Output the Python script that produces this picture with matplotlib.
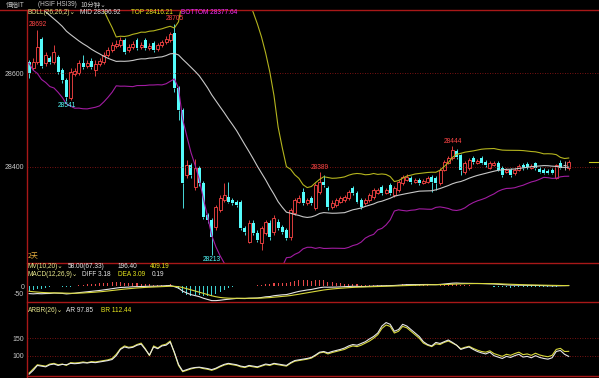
import numpy as np
import pandas as pd
import matplotlib
matplotlib.use("Agg")
import matplotlib.pyplot as plt
from matplotlib.lines import Line2D

# ---------------- data ----------------
pre_close = [28840, 28855, 28830, 28845, 28820, 28835, 28810, 28800, 28815, 28790,
             28780, 28795, 28770, 28760, 28775, 28755, 28750, 28770, 28760, 28750,
             28745, 28660, 28650, 28640, 28630]

open_ = [28623, 28611, 28623, 28672, 28621, 28632, 28623, 28634, 28606, 28585,
         28547, 28598, 28600, 28621, 28615, 28626, 28606, 28619, 28623, 28638,
         28649, 28657, 28660, 28670, 28649, 28655, 28670, 28655, 28670, 28653,
         28664, 28651, 28660, 28666, 28670, 28685,
         28568, 28521, 28383, 28404, 28357, 28398, 28366, 28298, 28287, 28272,
         28308, 28330, 28336, 28330, 28326, 28326, 28270, 28240, 28281, 28260,
         28238, 28260, 28281, 28262, 28283, 28272, 28266, 28251, 28302, 28326,
         28347, 28323, 28334, 28313, 28347,
         28368, 28355, 28315, 28319, 28326, 28330, 28334, 28355, 28345, 28330,
         28323, 28330, 28336, 28345, 28357, 28345, 28362, 28340, 28351, 28366,
         28372, 28377, 28368, 28372, 28366, 28368, 28379, 28377, 28366, 28394,
         28409, 28419, 28434, 28425, 28389, 28398, 28419, 28409, 28419, 28411,
         28398, 28404, 28409, 28398, 28389, 28394, 28387, 28394, 28404, 28406,
         28398, 28409, 28396, 28394, 28392, 28394, 28377, 28409, 28404, 28398]

close = [28600, 28623, 28655, 28615, 28638, 28623, 28645, 28602, 28585, 28549,
         28602, 28604, 28621, 28613, 28621, 28613, 28619, 28626, 28638, 28649,
         28660, 28662, 28670, 28645, 28655, 28662, 28653, 28660, 28653, 28657,
         28649, 28660, 28666, 28672, 28683, 28568,
         28521, 28366, 28404, 28383, 28398, 28366, 28294, 28287, 28251, 28315,
         28334, 28340, 28326, 28323, 28319, 28270, 28262, 28281, 28260, 28245,
         28270, 28283, 28251, 28292, 28270, 28262, 28249, 28308, 28330, 28334,
         28323, 28330, 28323, 28362, 28368,
         28362, 28315, 28323, 28330, 28334, 28336, 28347, 28345, 28326, 28315,
         28330, 28340, 28351, 28351, 28345, 28351, 28345, 28355, 28368, 28379,
         28379, 28368, 28372, 28366, 28370, 28377, 28368, 28366, 28394, 28411,
         28419, 28436, 28421, 28394, 28409, 28415, 28411, 28413, 28409, 28404,
         28409, 28409, 28394, 28383, 28394, 28383, 28394, 28402, 28398, 28400,
         28402, 28398, 28389, 28387, 28387, 28387, 28404, 28398, 28404, 28411]

high = [28628, 28632, 28692, 28677, 28645, 28636, 28660, 28638, 28611, 28589,
        28611, 28611, 28628, 28638, 28628, 28632, 28628, 28632, 28645, 28655,
        28666, 28670, 28677, 28674, 28662, 28668, 28674, 28666, 28674, 28664,
        28668, 28664, 28670, 28679, 28688, 28705,
        28572, 28526, 28415, 28409, 28417, 28402, 28370, 28302, 28292, 28319,
        28340, 28366, 28368, 28334, 28330, 28330, 28274, 28287, 28287, 28266,
        28274, 28287, 28287, 28298, 28289, 28276, 28270, 28313, 28334, 28340,
        28355, 28334, 28338, 28366, 28389,
        28383, 28360, 28330, 28334, 28338, 28340, 28351, 28360, 28349, 28334,
        28334, 28345, 28355, 28355, 28362, 28355, 28366, 28360, 28372, 28383,
        28385, 28381, 28377, 28377, 28374, 28381, 28383, 28381, 28398, 28415,
        28423, 28444, 28438, 28428, 28413, 28419, 28423, 28417, 28423, 28415,
        28413, 28413, 28413, 28402, 28398, 28398, 28398, 28406, 28409, 28411,
        28406, 28411, 28400, 28398, 28396, 28398, 28406, 28415, 28413, 28415]

low = [28589, 28606, 28619, 28611, 28615, 28619, 28619, 28598, 28579, 28541,
       28543, 28594, 28596, 28609, 28611, 28609, 28594, 28615, 28619, 28634,
       28645, 28653, 28655, 28640, 28645, 28651, 28649, 28651, 28649, 28649,
       28645, 28647, 28655, 28662, 28666, 28560,
       28500, 28313, 28377, 28377, 28351, 28360, 28289, 28281, 28213, 28266,
       28304, 28326, 28323, 28319, 28315, 28266, 28255, 28238, 28255, 28240,
       28223, 28255, 28245, 28255, 28266, 28258, 28245, 28245, 28298, 28323,
       28319, 28319, 28319, 28308, 28343,
       28357, 28308, 28311, 28315, 28323, 28326, 28330, 28340, 28323, 28311,
       28319, 28326, 28332, 28343, 28340, 28343, 28340, 28336, 28347, 28362,
       28370, 28364, 28366, 28362, 28364, 28366, 28347, 28351, 28362, 28392,
       28406, 28415, 28417, 28383, 28385, 28394, 28406, 28406, 28406, 28400,
       28396, 28402, 28392, 28379, 28387, 28379, 28383, 28392, 28394, 28396,
       28396, 28394, 28387, 28385, 28385, 28385, 28374, 28396, 28394, 28394]

ar = [47, 58, 72, 70, 68, 74, 76, 72, 75, 74, 78, 77, 78, 80, 79, 81, 80, 82, 84, 86,
      89, 100, 118, 125, 122, 124, 130, 133, 118, 102, 125, 120, 128, 130, 139, 110,
      75, 56, 60, 64, 66, 67, 65, 63, 60, 64, 70, 75, 78, 76, 74, 70, 68, 72, 70, 68,
      72, 76, 74, 78, 76, 74, 72, 80, 86, 88, 90, 92, 95, 102, 110, 112, 108, 112, 115,
      118, 122, 128, 132, 130, 135, 140, 148, 155, 165, 185, 195, 190, 170, 175, 190,
      185, 175, 165, 155, 140, 132, 128, 138, 135, 140, 145, 138, 130, 118, 122, 125,
      118, 112, 108, 105, 110, 100, 96, 92, 98, 95, 100, 104, 96, 98, 94, 100, 95, 92,
      90, 94, 112, 115, 104, 97.85]

br = [50, 62, 74, 72, 70, 76, 78, 74, 76, 72, 80, 79, 80, 82, 80, 83, 82, 84, 86, 88,
      92, 104, 120, 128, 124, 126, 132, 136, 120, 100, 128, 122, 130, 133, 142, 108,
      72, 54, 58, 62, 65, 66, 63, 61, 58, 62, 68, 73, 76, 74, 72, 68, 66, 70, 68, 66,
      70, 74, 72, 76, 74, 72, 70, 78, 84, 86, 88, 90, 93, 100, 108, 110, 105, 109, 112,
      115, 118, 124, 128, 126, 130, 136, 142, 150, 160, 178, 188, 184, 165, 170, 184,
      180, 170, 160, 150, 136, 130, 126, 134, 132, 138, 142, 136, 130, 120, 124, 127,
      121, 116, 112, 110, 114, 106, 102, 98, 104, 101, 106, 110, 103, 105, 101, 107,
      102, 99, 97, 101, 118, 121, 112, 112.44]

price_ticks = [28400, 28600]
macd_ticks = [0, -50]
arbr_ticks = [100, 150]
marks = [(2, 'H'), (9, 'L'), (35, 'H'), (44, 'L'), (70, 'H'), (102, 'H')]

# ---------------- indicators ----------------
P = len(pre_close)
allc = pd.Series(pre_close + close, dtype=float)
mid_s = allc.rolling(26).mean()
sd_s = allc.rolling(26).std(ddof=1)
mid = mid_s.values[P:]
up = (mid_s + 2 * sd_s).values[P:]
dn = (mid_s - 2 * sd_s).values[P:]
ema12 = allc.ewm(span=12, adjust=False).mean()
ema26 = allc.ewm(span=26, adjust=False).mean()
dif = (ema12 - ema26).values[P:]
dea = (ema12 - ema26).ewm(span=9, adjust=False).mean().values[P:]
hist = 2 * (dif - dea)

# ---------------- figure ----------------
plt.rcParams['font.family'] = ['Liberation Sans', 'Noto Sans CJK SC', 'DejaVu Sans']
W, H = 599, 378
fig = plt.figure(figsize=(W / 100, H / 100), dpi=100, facecolor='black')
L = 27 / W


def fy(py):
    return 1 - py / H


RED = '#ff4646'
CYAN = '#54fcfc'
GRAY = '#c8c8c8'
FRAME = '#a81818'
GRID = '#a01818'
TXT = '#c8c8c8'

ax = fig.add_axes([L, fy(263), 1 - L, (263 - 10) / H])
axm = fig.add_axes([L, fy(302), 1 - L, (302 - 263) / H])
axa = fig.add_axes([L, fy(376), 1 - L, (376 - 302) / H])

N = len(close)
x = np.arange(N)
xl = (-0.5, 137.3)
for a in (ax, axm, axa):
    a.set_facecolor('black')
    a.set_xlim(*xl)
    for s in a.spines.values():
        s.set_visible(False)
    a.set_xticks([])
    a.tick_params(axis='y', length=0, pad=2, labelsize=5, labelcolor=TXT)

# main price panel
ax.set_ylim(28195.7, 28734.1)
ax.set_yticks(price_ticks)
ax.set_yticklabels([str(v) for v in price_ticks])
for v in price_ticks:
    ax.axhline(v, color=GRID, lw=0.6, ls=(0, (1, 2)))

bw = 0.72
for i in range(N):
    o, c, h, lo = open_[i], close[i], high[i], low[i]
    top, bot = max(o, c), min(o, c)
    if c > o:
        col = RED
    elif c < o:
        col = CYAN
    else:
        col = GRAY
    ax.vlines(i, top, h, color=col, lw=0.6)
    ax.vlines(i, lo, bot, color=col, lw=0.6)
    if c > o:
        ax.bar(i, top - bot, bottom=bot, width=bw, facecolor='black',
               edgecolor=col, lw=0.6)
    elif c < o:
        ax.bar(i, top - bot, bottom=bot, width=bw, color=col, lw=0)
    else:
        ax.hlines(o, i - bw / 2, i + bw / 2, color=col, lw=0.7)

ax.plot(x, mid, color='#c8c8c8', lw=0.8)
ax.plot(x, up, color='#b4b41e', lw=0.8)
ax.plot(x, dn, color='#a21ca2', lw=0.8)
ax.axhline(close[-1], xmin=0.982, xmax=1.0, color='#c8c81e', lw=0.8)

for i, kind in marks:
    if kind == 'H':
        ax.annotate(f"{high[i]:.0f}", (i, high[i]), xytext=(0, 1.0),
                    textcoords='offset points', ha='center', va='bottom',
                    fontsize=4.8, color=RED)
    else:
        ax.annotate(f"{low[i]:.0f}", (i, low[i]), xytext=(0, -1.0),
                    textcoords='offset points', ha='center', va='top',
                    fontsize=4.8, color=CYAN)

# MACD panel
axm.set_ylim(-105, 151)
axm.set_yticks(macd_ticks)
axm.set_yticklabels([str(v) for v in macd_ticks])
axm.bar(x, hist, width=0.25, color=np.where(hist >= 0, '#e84848', '#3cd2d2'), lw=0)
axm.plot(x, dif, color='#e6e6e6', lw=0.8)
axm.plot(x, dea, color='#d8d83c', lw=0.8)

# ARBR panel
axa.set_ylim(41.7, 254)
axa.set_yticks(arbr_ticks)
axa.set_yticklabels([str(v) for v in arbr_ticks])
for v in arbr_ticks:
    axa.axhline(v, color=GRID, lw=0.6, ls=(0, (1, 2)))
axa.plot(x, br, color='#d8d83c', lw=0.8)
axa.plot(x, ar, color='#e6e6e6', lw=0.8)

# frame lines
fig.add_artist(Line2D([0, 1], [fy(10), fy(10)], color=FRAME, lw=1))
for py in (263, 302, 376):
    fig.add_artist(Line2D([L, 1], [fy(py), fy(py)], color=FRAME, lw=1))
fig.add_artist(Line2D([L, L], [fy(10), 0], color=FRAME, lw=1))


def ftext(px, py, s, color, size=4.7, **kw):
    fig.text(px / W, fy(py), s, color=color, fontsize=size, va='center', ha='left', **kw)


CJK = ['Noto Sans CJK SC', 'DejaVu Sans']
LAT = ['Liberation Sans', 'DejaVu Sans']
ftext(6, 4.5, "恒指IT", TXT, family=CJK)
ftext(38, 4.5, "(HSIF HSI39)", TXT)
ftext(80, 4.5, "10分钟⌄", TXT, family=CJK)

ftext(28, 12.5, "BOLL(26,26,2)⌄", '#e8e88c', family=LAT)
ftext(80, 12.5, "MID 28396.92", '#e6e6e6')
ftext(131, 12.5, "TOP 28416.21", '#e8e81e')
ftext(181, 12.5, "BOTTOM 28377.64", '#ff2cff')

ftext(28, 256, "2天", '#e8b040', size=5, family=CJK)

ftext(28, 267, "MV(10,20)⌄", '#e8e88c', family=LAT)
ftext(68, 267, "58.00(67.33)", '#e6e6e6')
ftext(118, 267, "196.40", '#e6e6e6')
ftext(150, 267, "409.19", '#e8e81e')
ftext(28, 275, "MACD(12,26,9)⌄", '#e8e88c', family=LAT)
ftext(82, 275, "DIFF 3.18", '#e6e6e6')
ftext(118, 275, "DEA 3.09", '#e8e81e')
ftext(152, 275, "0.19", '#e6e6e6')

ftext(28, 310, "ARBR(26)⌄", '#e8e88c', family=LAT)
ftext(66, 310, "AR 97.85", '#e6e6e6')
ftext(101, 310, "BR 112.44", '#e8e81e')

fig.savefig("out.png", dpi=100, facecolor='black')
